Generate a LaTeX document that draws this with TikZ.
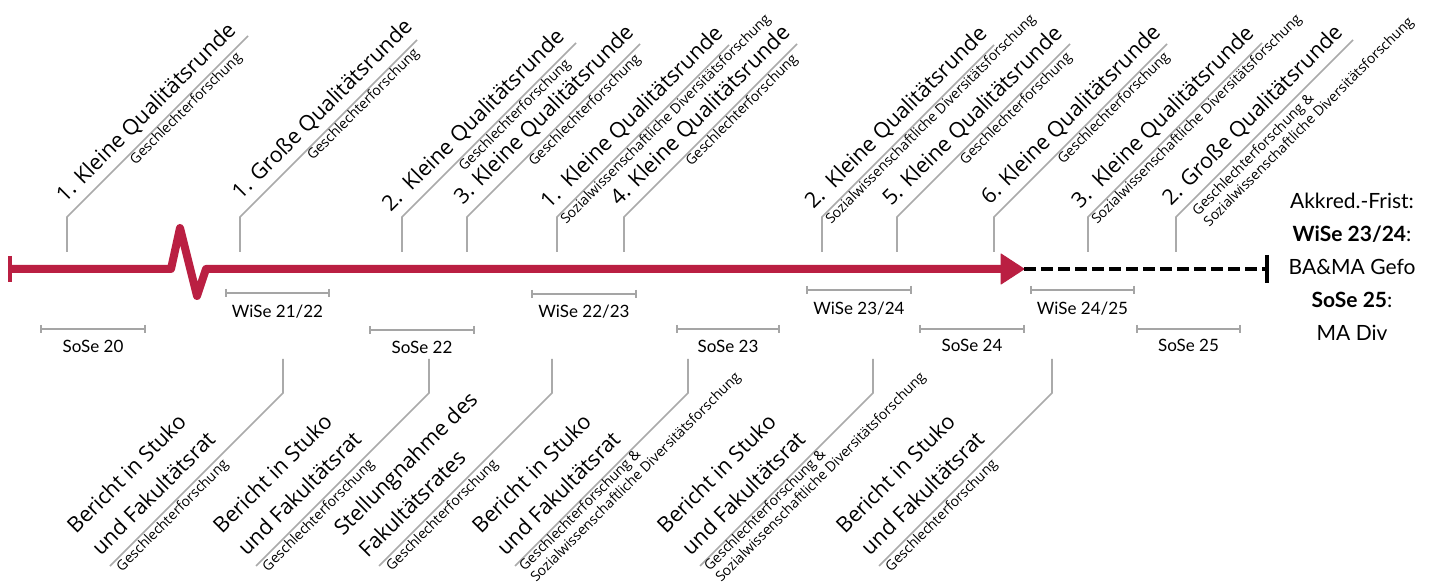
\documentclass[tikz,border=0pt]{standalone}
\usepackage{fontspec}
\setmainfont{Lato}
\newfontfamily\osans{Open Sans}
\usetikzlibrary{arrows.meta}
\definecolor{tlred}{RGB}{186,31,66}
\definecolor{cgray}{RGB}{170,170,170}
\definecolor{bgray}{RGB}{165,165,165}
\tikzset{
  callout/.style={draw=cgray, line width=1.6pt},
  mainlbl/.style={font=\osans\fontsize{21.5}{26}\selectfont, inner sep=0pt, rotate=45},
  sublbl/.style={font=\osans\fontsize{14}{16}\selectfont, inner sep=0pt, rotate=45, align=left},
  semlbl/.style={font=\fontsize{17}{20}\selectfont, inner sep=0pt},
  bracket/.style={draw=bgray, line width=2pt},
  akk/.style={font=\fontsize{21}{24}\selectfont, inner sep=0pt},
  redline/.style={draw=tlred, line width=8pt, line join=round, line cap=butt},
}
\newcommand\topcall[7]{%
  \coordinate (#1a) at (#2,252);
  \coordinate (#1b) at (#2,217);
  \coordinate (#1c) at (#2+#3,217-#3);
  \draw[callout] (#1a) -- (#1b) -- (#1c);
  \begin{scope}[shift={(#1b)},rotate=45]
    \node[mainlbl,anchor=base west] (#1m) at (#5,-11) {#4};
    \node[sublbl,anchor=north west] (#1s) at #7 {#6};
  \end{scope}}
\newcommand\botcall[7]{%
  \coordinate (#1a) at (#2,359);
  \coordinate (#1b) at (#2,393);
  \coordinate (#1c) at (#2-173,566);
  \draw[callout] (#1a) -- (#1b) -- (#1c);
  \begin{scope}[shift={(#1c)},rotate=45]
    \node[mainlbl,anchor=base west] (#1m) at (#5,-46) {#3};
    \node[mainlbl,anchor=base west] (#1n) at (#5+2,-13) {#4};
    \node[sublbl,anchor=north west] (#1s) at #7 {#6};
  \end{scope}}
\newcommand\sem[6]{%
  \coordinate (#1l) at (#2,#4);
  \coordinate (#1r) at (#3,#4);
  \draw[bracket] (#1l) -- (#1r);
  \draw[bracket] ([yshift=4pt]#1l) -- ([yshift=-4pt]#1l);
  \draw[bracket] ([yshift=4pt]#1r) -- ([yshift=-4pt]#1r);
  \node[semlbl] (#1t) at ({(#2+#3)/2},#6) {#5};}
\begin{document}
\begin{tikzpicture}[x=1pt,y=-1pt]
\useasboundingbox (0,0) rectangle (1433,585);
\fill[white] (0,0) rectangle (1433,585);

% main timeline
\coordinate (s0) at (9,269);
\coordinate (z1) at (171,269);
\coordinate (z2) at (180,228);
\coordinate (z3) at (197,296);
\coordinate (z4) at (206,269);
\coordinate (ab) at (1004,269);
\coordinate (ah) at (1024,269);
\coordinate (de) at (1266,269);
\draw[draw=tlred, line width=4pt] (10,256) -- (10,282);
\draw[redline] (s0) -- (z1) -- (z2) -- (z3) -- (z4) -- (ab);
\draw[draw=tlred, line width=1pt, fill=tlred, line join=round] (1001,254) -- (ah) -- (1001,284) -- cycle;
\draw[black, line width=4pt, dash pattern=on 12pt off 5pt] (ah) -- (de);
\draw[black, line width=4pt] (1267,255) -- (1267,283);

% semesters
\sem{w21}{226}{329}{293}{WiSe 21/22}{312}
\sem{w22}{532}{636}{294}{WiSe 22/23}{312}
\sem{w23}{807}{911}{290}{WiSe 23/24}{309}
\sem{w24}{1031}{1134}{290}{WiSe 24/25}{309}
\sem{s20}{41}{145}{329}{SoSe 20}{346}
\sem{s22}{370}{474}{330}{SoSe 22}{347}
\sem{s23}{677}{779}{329}{SoSe 23}{346}
\sem{s24}{920}{1024}{329}{SoSe 24}{345}
\sem{s25}{1137}{1240}{329}{SoSe 25}{345}

% top callouts
\topcall{t1}{67}{181}{1. Kleine Qualitätsrunde}{8}{Geschlechterforschung}{(85,1)}
\topcall{t2}{240}{177}{1. Große Qualitätsrunde}{12}{Geschlechterforschung}{(91,1)}
\topcall{t3}{402}{174}{2.\ \ Kleine Qualitätsrunde}{-5}{Geschlechterforschung}{(76,1)}
\topcall{t4}{467}{173}{3. Kleine Qualitätsrunde}{5}{Geschlechterforschung}{(83,1)}
\topcall{t5}{557}{172}{1.\ \ Kleine Qualitätsrunde}{0}{Sozialwissenschaftliche Diversitätsforschung}{(1,1)}
\topcall{t6}{624}{173}{4. Kleine Qualitätsrunde}{4}{Geschlechterforschung}{(83,1)}
\topcall{t7}{822}{172}{2.\ \ Kleine Qualitätsrunde}{-1}{Sozialwissenschaftliche Diversitätsforschung}{(1,1)}
\topcall{t8}{897}{173}{5. Kleine Qualitätsrunde}{3}{Geschlechterforschung}{(85,1)}
\topcall{t9}{994}{173}{6. Kleine Qualitätsrunde}{5}{Geschlechterforschung}{(86,1)}
\topcall{t10}{1088}{174}{3.\ \ Kleine Qualitätsrunde}{0}{Sozialwissenschaftliche Diversitätsforschung}{(1,1)}
\topcall{t11}{1176}{177}{2. Große Qualitätsrunde}{4}{Geschlechterforschung \&\\Sozialwissenschaftliche Diversitätsforschung}{(16,4)}

% bottom callouts
\botcall{b1}{283}{Bericht in Stuko}{und Fakultätsrat}{-2}{Geschlechterforschung}{(4,2)}
\botcall{b2}{429}{Bericht in Stuko}{und Fakultätsrat}{-2}{Geschlechterforschung}{(4,2)}
\botcall{b3}{552}{Stellungnahme des}{Fakultätsrates}{-5}{Geschlechterforschung}{(5,2)}
\botcall{b4}{688}{Bericht in Stuko}{und Fakultätsrat}{-2}{Geschlechterforschung \&\\Sozialwissenschaftliche Diversitätsforschung}{(3,0)}
\botcall{b5}{873}{Bericht in Stuko}{und Fakultätsrat}{-2}{Geschlechterforschung \&\\Sozialwissenschaftliche Diversitätsforschung}{(3,0)}
\botcall{b6}{1052}{Bericht in Stuko}{und Fakultätsrat}{-2}{Geschlechterforschung}{(4,2)}

% right text
\node[akk] (k1) at (1352,201) {Akkred.-Frist:};
\node[akk] (k2) at (1352,234) {\textbf{WiSe 23/24}:};
\node[akk] (k3) at (1352,267) {BA\&MA Gefo};
\node[akk] (k4) at (1352,300) {\textbf{SoSe 25}:};
\node[akk] (k5) at (1352,333) {MA Div};
\end{tikzpicture}
\end{document}
